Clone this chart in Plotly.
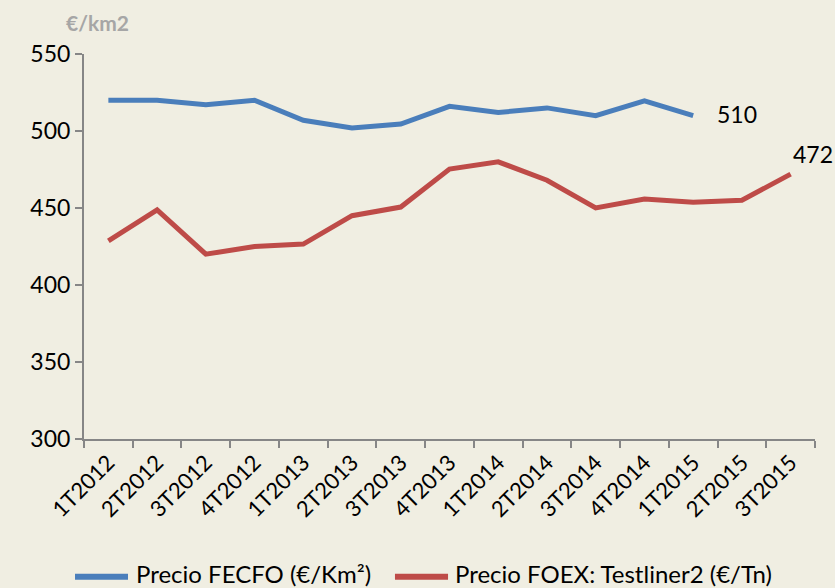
import plotly.graph_objects as go

categories = ["1T2012", "2T2012", "3T2012", "4T2012", "1T2013", "2T2013", "3T2013",
              "4T2013", "1T2014", "2T2014", "3T2014", "4T2014", "1T2015", "2T2015", "3T2015"]
fecfo = [520, 520, 517, 520, 507, 502, 504.5, 516, 512, 515, 510, 519.5, 510]
foex = [428.6, 448.7, 420, 425, 426.6, 445, 450.6, 475.3, 480, 468, 450, 455.8, 453.7, 455, 472]
name_fecfo = "Precio FECFO (€/Km²)"
name_foex = "Precio FOEX: Testliner2 (€/Tn)"
y_title = "€/km2"

bg = "#F0EEE2"
font = "Lato, 'Open Sans', sans-serif"
blue = "#4A7EBB"
red = "#BE4B48"

fig = go.Figure()
fig.add_trace(go.Scatter(x=categories[:len(fecfo)], y=fecfo, mode="lines", name=name_fecfo,
                         line=dict(color=blue, width=5)))
fig.add_trace(go.Scatter(x=categories, y=foex, mode="lines", name=name_foex,
                         line=dict(color=red, width=5)))

fig.add_annotation(x=categories[len(fecfo) - 1], y=fecfo[-1], text=str(round(fecfo[-1])),
                   showarrow=False, xref="x", yref="y", xanchor="left", xshift=22, yshift=2,
                   font=dict(size=23, color="black", family=font))
fig.add_annotation(x=categories[-1], y=foex[-1], text=str(round(foex[-1])),
                   showarrow=False, xref="x", yref="y", xanchor="center", yanchor="middle",
                   xshift=22, yshift=20,
                   font=dict(size=23, color="black", family=font))
fig.add_annotation(x=0.0178, y=1.083, xref="paper", yref="paper", text="<b>" + y_title + "</b>",
                   showarrow=False, xanchor="center", yanchor="middle",
                   font=dict(size=21, color="#A6A6A6", family=font))

# custom legend (long thick line samples, as in the reference)
line_y = -0.358
text_y = -0.3506
for x0, x1, tx, color, name in [(-0.0123, 0.0602, 0.0684, blue, name_fecfo),
                                 (0.4254, 0.498, 0.5048, red, name_foex)]:
    fig.add_shape(type="line", xref="paper", yref="paper", x0=x0, x1=x1, y0=line_y, y1=line_y,
                  line=dict(color=color, width=6))
    fig.add_annotation(x=tx, y=text_y, xref="paper", yref="paper", text=name, showarrow=False,
                       xanchor="left", yanchor="middle",
                       font=dict(size=24, color="black", family=font))

fig.update_layout(
    width=835, height=588,
    paper_bgcolor=bg, plot_bgcolor=bg,
    margin=dict(l=84, r=20, t=54, b=149, autoexpand=False),
    font=dict(family=font, color="black", size=22),
    showlegend=False,
    xaxis=dict(type="category", categoryorder="array", categoryarray=categories,
               range=[-0.5, len(categories) - 0.5], showgrid=False, showline=True,
               linecolor="#868686", linewidth=2, ticks="outside", tickson="boundaries",
               ticklen=7, tickcolor="#868686", tickwidth=2, tickangle=-45,
               tickfont=dict(size=22), automargin=False),
    yaxis=dict(range=[300, 550], dtick=50, showgrid=False, showline=True,
               linecolor="#868686", linewidth=2, ticks="outside", ticklen=7,
               tickcolor="#868686", tickwidth=2, zeroline=False,
               tickfont=dict(size=23), automargin=False),
)

fig.write_html("out.html", config={"displayModeBar": False},
               post_script="document.body.style.margin='0';")
